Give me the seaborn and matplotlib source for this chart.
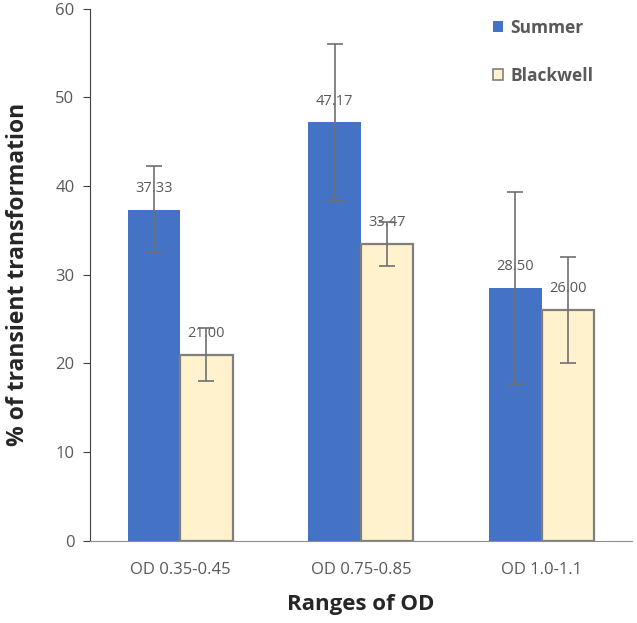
import matplotlib
matplotlib.use("Agg")
import matplotlib.pyplot as plt
import seaborn as sns
import pandas as pd
import numpy as np

categories = ["OD 0.35-0.45", "OD 0.75-0.85", "OD 1.0-1.1"]
series = ["Summer", "Blackwell"]
summer_vals = [37.33, 47.17, 28.50]
blackwell_vals = [21.00, 33.47, 26.00]
summer_err = [4.9, 8.8, 10.8]
blackwell_err = [3.0, 2.5, 6.0]

sns.set_style("white")
plt.rcParams['font.family'] = ['Open Sans', 'DejaVu Sans']

df = pd.DataFrame({
    "cat": categories * 2,
    "series": ["Summer"] * 3 + ["Blackwell"] * 3,
    "val": summer_vals + blackwell_vals,
})
errs = summer_err + blackwell_err

fig = plt.figure(figsize=(6.37, 6.23), dpi=100)
ax = fig.add_axes([0.141, 0.132, 0.851, 0.854])
palette = {"Summer": "#4472C4", "Blackwell": "#FFF2CC"}
sns.barplot(data=df, x="cat", y="val", hue="series", hue_order=series,
            palette=palette, width=0.58, ax=ax, errorbar=None, saturation=1)

gray = "#595959"
patches = [p for p in ax.patches if p.get_height() > 0][:6]
for i, p in enumerate(patches):
    if i >= 3:
        p.set_edgecolor("#7f7f7f")
        p.set_linewidth(1.6)
    else:
        p.set_edgecolor("none")
    xc = p.get_x() + p.get_width() / 2
    h = p.get_height()
    ax.errorbar(xc, h, yerr=errs[i], fmt="none", ecolor="#707070",
                elinewidth=1.2, capsize=6, capthick=1.2, zorder=5)
    ax.annotate(f"{h:.2f}", (xc, h), xytext=(0, 10), textcoords="offset points",
                ha="center", va="bottom", fontsize=10.5, color=gray)

ax.set_ylim(0, 60)
ax.set_yticks(range(0, 61, 10))
ax.set_xlim(-0.5, 2.5)
ax.set_xlabel("Ranges of OD", fontsize=16, fontweight="bold", color="#262626", labelpad=12)
ax.set_ylabel("% of transient transformation", fontsize=16.5, fontweight="bold", color="#262626", labelpad=18)
ax.tick_params(axis="y", labelsize=12, colors=gray, pad=6)
ax.tick_params(axis="x", labelsize=12, colors=gray, length=0, pad=15)
ax.tick_params(axis="y", left=True, length=5, color="#404040", direction="out")
for s in ["top", "right"]:
    ax.spines[s].set_visible(False)
ax.spines["left"].set_color("#404040")
ax.spines["bottom"].set_color("#8c8c8c")

handles, labels = ax.get_legend_handles_labels()
leg = ax.legend(handles, labels, loc="upper left", bbox_to_anchor=(0.715, 1.01),
                frameon=False, labelspacing=1.7, handlelength=0.6, handleheight=0.6,
                handletextpad=0.4, prop={"weight": "bold", "size": 12.5})
for t in leg.get_texts():
    t.set_color(gray)
for h in leg.legend_handles:
    h.set_edgecolor("#7f7f7f")
    h.set_linewidth(1.2)
leg.legend_handles[0].set_edgecolor("none")

fig.savefig("out.png", dpi=100)
